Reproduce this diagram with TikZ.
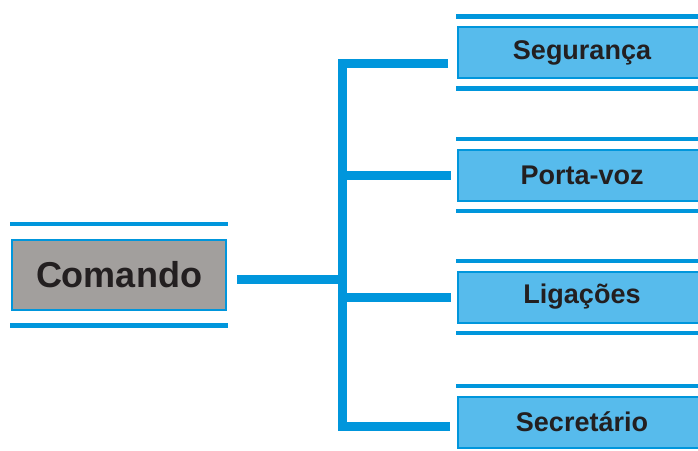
\documentclass[tikz,border=0pt]{standalone}
\usepackage{fontspec}
\setmainfont{Liberation Sans}
\definecolor{azul}{RGB}{0,150,220}
\definecolor{azulclaro}{RGB}{87,187,236}
\definecolor{cinza}{RGB}{162,159,157}
\definecolor{texto}{RGB}{35,31,32}

\begin{document}
\begin{tikzpicture}[
    x=1pt, y=-1pt,
    cargo/.style = {rectangle, draw=azul, line width=2pt, fill=azulclaro, text=texto,
                    minimum width=248pt, minimum height=51pt, inner sep=0pt,
                    font=\bfseries\fontsize{27}{30}\selectfont},
    chefe/.style = {cargo, fill=cinza, minimum width=214pt, minimum height=70pt,
                    font=\bfseries\fontsize{36}{40}\selectfont},
    faixa/.style = {draw=azul, line width=4.5pt},
    ligacao/.style = {draw=azul, line width=9pt}
  ]
  \clip (0,0) rectangle (698,450);

  \node[chefe] (comando) at (119,275) {Comando};
  \node[cargo] (seguranca) at (582,52.5) {Segurança};
  \node[cargo] (portavoz) at (582,175) {Porta-voz};
  \node[cargo] (ligacoes) at (582,297) {Ligações};
  \node[cargo] (secretario) at (582,422) {Secretário};

  % faixas por cima e por baixo das caixas
  \draw[faixa] ([shift={(-1pt,15pt)}]comando.north west) -- ([shift={(1pt,15pt)}]comando.north east);
  \draw[faixa] ([shift={(-1pt,-14.5pt)}]comando.south west) -- ([shift={(1pt,-14.5pt)}]comando.south east);
  \foreach \n in {seguranca,portavoz,ligacoes,secretario}{
    \draw[faixa] ([shift={(-1pt,9.5pt)}]\n.north west) -- ([yshift=9.5pt]\n.north east);
    \draw[faixa] ([shift={(-1pt,-9.5pt)}]\n.south west) -- ([yshift=-9.5pt]\n.south east);
  }

  % tronco e ramos
  \coordinate (topo) at (342.5,63.5);
  \coordinate (base) at (342.5,426);
  \draw[ligacao] ([xshift=-9pt]seguranca.west |- topo) -- (topo) -- (base) -- ([xshift=-7pt]secretario.west |- base);
  \draw[ligacao] ([shift={(10pt,-4.5pt)}]comando.east) coordinate (saida) -- (saida -| topo);
  \draw[ligacao] (topo |- portavoz) -- ([xshift=-6pt]portavoz.west);
  \draw[ligacao] (topo |- ligacoes) -- ([xshift=-6pt]ligacoes.west);
\end{tikzpicture}
\end{document}
